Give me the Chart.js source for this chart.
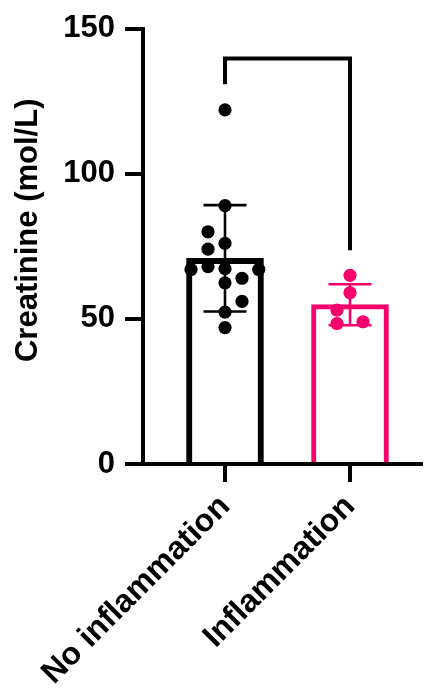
<!DOCTYPE html>
<html>
<head>
<meta charset="utf-8">
<script src="https://cdn.jsdelivr.net/npm/chart.js@4.4.1/dist/chart.umd.min.js"></script>
<style>
  html, body { margin: 0; padding: 0; background: #fff; }
  canvas { display: block; }
</style>
</head>
<body>
<canvas id="chart" width="429" height="691"></canvas>
<script>
// Group names and individual creatinine measurements
const groups = ['No inflammation', 'Inflammation'];
const noInflammation = [122, 89, 80, 76, 74, 67, 68, 67.3, 67, 62.4, 64, 56, 52.3, 47];
const inflammation = [65, 59, 53, 48.4, 49];
// Horizontal scatter offsets (in category units) so the dots do not overlap
const noInflammationSpread = [0, 0, -0.136, 0, -0.136, -0.272, -0.136, 0, 0.27, 0, 0.136, 0.136, 0, 0];
const inflammationSpread = [0, 0, -0.104, -0.104, 0.104];
const yTicks = [0, 50, 100, 150];
// Comparison bracket between the two groups
const bracketTop = 139.7;
const bracketLeftEnd = 130.8;
const bracketRightEnd = 73.6;

const BLACK = '#000000';
const PINK = '#f8016c';
const groupColors = [BLACK, PINK];
const FONT = "'Liberation Sans', Arial, Helvetica, sans-serif";
const FONT_SIZE = 31;

const mean = a => a.reduce((s, v) => s + v, 0) / a.length;
const sd = a => {
  const m = mean(a);
  return Math.sqrt(a.reduce((s, v) => s + (v - m) * (v - m), 0) / (a.length - 1));
};
const samples = [noInflammation, inflammation];
const spreads = [noInflammationSpread, inflammationSpread];
const stats = samples.map(a => ({ mean: mean(a), sd: sd(a) }));

const errorBars = {
  id: 'errorBars',
  afterDatasetDraw(chart, args) {
    if (args.meta.type !== 'bar') return;
    const { ctx } = chart;
    const xs = chart.scales.x, ys = chart.scales.y;
    stats.forEach((s, i) => {
      const px = xs.getPixelForValue(i + 1);
      const hi = ys.getPixelForValue(s.mean + s.sd);
      const lo = ys.getPixelForValue(s.mean - s.sd);
      const half = 21.5;
      ctx.save();
      ctx.strokeStyle = groupColors[i];
      ctx.lineWidth = 2.6;
      ctx.beginPath();
      ctx.moveTo(px, hi); ctx.lineTo(px, lo);
      ctx.moveTo(px - half, hi); ctx.lineTo(px + half, hi);
      ctx.moveTo(px - half, lo); ctx.lineTo(px + half, lo);
      ctx.stroke();
      ctx.restore();
    });
  }
};

const bracket = {
  id: 'bracket',
  afterDatasetsDraw(chart) {
    const { ctx } = chart;
    const xs = chart.scales.x, ys = chart.scales.y;
    const x1 = xs.getPixelForValue(1), x2 = xs.getPixelForValue(2);
    const yt = ys.getPixelForValue(bracketTop);
    ctx.save();
    ctx.strokeStyle = BLACK;
    ctx.lineWidth = 4;
    ctx.lineJoin = 'miter';
    ctx.lineCap = 'butt';
    ctx.beginPath();
    ctx.moveTo(x1, ys.getPixelForValue(bracketLeftEnd));
    ctx.lineTo(x1, yt);
    ctx.lineTo(x2, yt);
    ctx.lineTo(x2, ys.getPixelForValue(bracketRightEnd));
    ctx.stroke();
    ctx.restore();
  }
};

const yTitle = {
  id: 'yTitle',
  afterDraw(chart) {
    const { ctx, chartArea } = chart;
    ctx.save();
    ctx.fillStyle = BLACK;
    ctx.font = `bold ${FONT_SIZE}px ${FONT}`;
    ctx.textAlign = 'center';
    ctx.textBaseline = 'middle';
    ctx.translate(chartArea.left - 115, (chartArea.top + chartArea.bottom) / 2 - 16);
    ctx.rotate(-Math.PI / 2);
    ctx.fillText('Creatinine (mol/L)', 0, 0);
    ctx.restore();
  }
};

const scatterSets = samples.map((a, i) => ({
  type: 'scatter',
  data: a.map((v, j) => ({ x: i + 1 + spreads[i][j], y: v })),
  pointRadius: 6.6,
  pointHoverRadius: 6.6,
  pointBorderWidth: 0,
  pointBackgroundColor: groupColors[i],
  borderColor: groupColors[i],
  order: 1
}));

const axisGrid = {
  display: true,
  offset: false,
  drawOnChartArea: false,
  drawTicks: true,
  tickLength: 18,
  lineWidth: 4,
  color: BLACK
};

new Chart(document.getElementById('chart'), {
  type: 'bar',
  data: {
    datasets: [
      {
        type: 'bar',
        data: stats.map((s, i) => ({ x: i + 1, y: s.mean })),
        backgroundColor: '#ffffff',
        borderColor: groupColors,
        borderWidth: [6, 5],
        borderSkipped: 'start',
        barThickness: 77,
        order: 3
      },
      ...scatterSets
    ]
  },
  options: {
    responsive: false,
    animation: false,
    devicePixelRatio: 1,
    layout: { padding: { top: 28, right: 8, bottom: 0, left: 0 } },
    plugins: { legend: { display: false }, tooltip: { enabled: false } },
    scales: {
      x: {
        type: 'linear',
        offset: false,
        min: 0.344,
        max: 2.568,
        afterBuildTicks(s) { s.ticks = groups.map((g, i) => ({ value: i + 1 })); },
        afterFit(s) { s.height = 227; },
        ticks: {
          callback: v => groups[v - 1],
          autoSkip: false,
          minRotation: 45,
          maxRotation: 45,
          padding: 2,
          color: BLACK,
          font: { family: FONT, size: 32, weight: 'bold', lineHeight: 1.55 }
        },
        grid: axisGrid,
        border: { display: true, width: 4, color: BLACK }
      },
      y: {
        min: 0,
        max: 150,
        offset: false,
        afterBuildTicks(s) { s.ticks = yTicks.map(v => ({ value: v })); },
        afterFit(s) { s.width = 143; },
        ticks: {
          padding: 10,
          color: BLACK,
          font: { family: FONT, size: FONT_SIZE, weight: 'bold' }
        },
        grid: axisGrid,
        border: { display: true, width: 4, color: BLACK }
      }
    }
  },
  plugins: [errorBars, bracket, yTitle]
});
</script>
</body>
</html>
